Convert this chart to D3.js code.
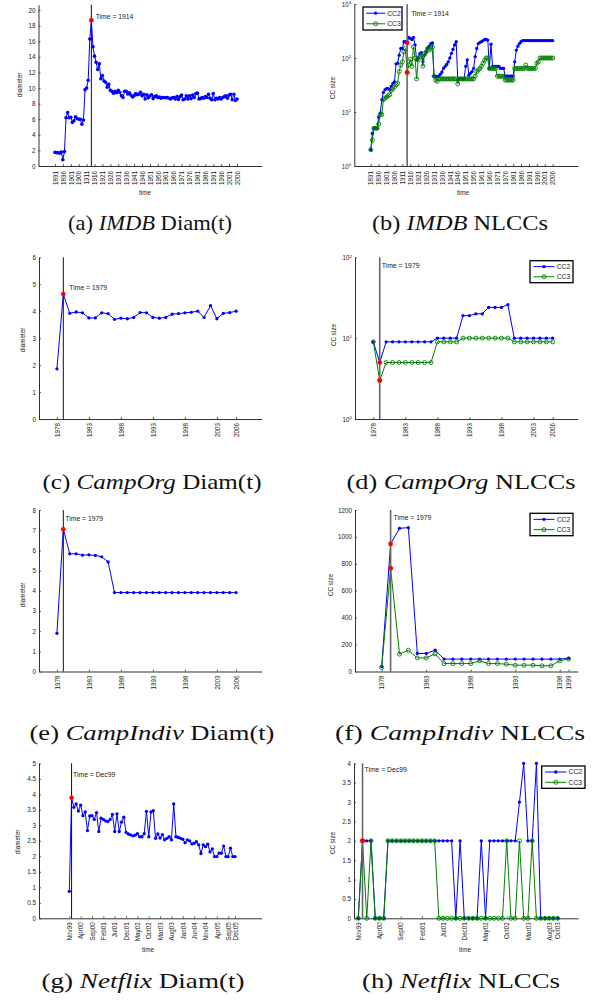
<!DOCTYPE html>
<html><head><meta charset="utf-8">
<script src="https://cdn.jsdelivr.net/npm/d3@7"></script>
<style>body{margin:0;background:#fff}svg{display:block}</style>
</head><body>
<svg id="c" width="595" height="1000"></svg>
<script>
// ---------------- DATA ----------------
// IMDB (yearly, 1891-2006)
const imdbStartYear = 1891;
const imdbDiameter = [1.75,1.7,1.7,1.65,1.8,0.8,1.85,
  6.2,6.85,6.2,6.25,5.6,5.8,6.3,6.1,6.0,6.0,5.35,5.9,9.8,10.0,11.0,16.3,18.7,
  15.3,14.1,13.3,12.4,13.1,11.2,11.6,10.9,10.75,10.1,10.5,9.7,9.6,9.35,9.6,9.4,
  9.7,9.45,9.0,8.8,9.6,9.6,9.25,9.4,9.1,8.85,9.0,9.3,9.15,9.2,9.45,9.0,9.2,8.6,9.15,8.75,
  9.0,9.15,8.65,8.9,9.0,8.8,8.85,8.7,8.8,8.8,8.75,8.8,8.7,8.6,8.75,8.8,8.6,8.9,8.55,8.9,
  9.1,8.5,8.6,9.0,8.6,9.0,8.65,9.1,8.8,9.3,9.35,8.6,8.65,8.8,8.7,8.9,8.8,9.2,8.7,8.5,
  9.3,8.5,8.7,8.6,8.8,8.6,8.8,8.9,9.0,8.7,9.1,9.2,8.5,9.2,8.4,8.6];
const imdbCC2 = [2,4,5,5,5,8,9.5,17,23,26,27,27,26,30,34,36,78,80,113,150,150,200,200,192,
  240,230,220,240,175,92,100,120,125,85,113,130,150,165,185,190,
  46,45,45,46,50,55,64,70,76,85,100,122,145,175,200,
  39,41,41,41,41,70,92,48,52,56,64,106,150,185,195,200,210,220,220,215,
  64,180,70,70,70,70,70,64,64,64,46,46,46,46,46,46,85,140,165,185,200,
  210,210,210,210,210,210,210,210,210,210,210,210,210,210,210,210,210,210,210,210];
const imdbCC3 = [2,3,5,5,5,6,9,9,17,18,19,20,21,25,27,29,32,34,56,74,85,130,150,54,
  74,95,70,160,100,41,92,106,113,71,120,130,150,140,150,160,
  46,39,37,41,41,41,41,41,41,41,41,41,41,41,41,
  33,41,41,41,41,41,41,41,41,41,41,46,56,60,64,70,80,92,100,100,
  64,64,64,64,64,46,46,46,46,46,39,39,39,39,39,39,64,64,64,64,64,
  64,64,74,64,64,64,64,64,64,80,85,100,100,100,100,100,100,100,100,100];
const imdbTicks = [1891,1896,1901,1906,1911,1916,1921,1926,1931,1936,1941,1946,1951,1956,1961,1966,1971,1976,1981,1986,1991,1996,2001,2006];
const imdbTickLabels = imdbTicks.map(String);
const imdbEvent = 1914;

// CampOrg (1978-2006)
const campStartYear = 1978;
const campOrgDiameter = [1.86,4.64,3.92,3.97,3.94,3.75,3.75,3.94,3.91,3.70,3.74,3.72,3.77,3.95,3.94,3.77,3.74,3.77,3.89,3.91,3.94,3.96,4.0,3.77,4.21,3.72,3.92,3.95,4.0];
const campOrgCC2 = [9,5,9,9,9,9,9,9,9,9,10,10,10,10,19,19,20,20,24,24,24,26,10,10,10,10,10,10,10];
const campOrgCC3 = [9,3,5,5,5,5,5,5,5,5,9,9,9,9,10,10,10,10,10,10,10,10,9,9,9,9,9,9,9];
const campTicks = [1978,1983,1988,1993,1998,2003,2006];
const campTickLabels = campTicks.map(String);
const campEvent = 1979;

// CampIndiv
const campIndivDiameter = [1.89,7.05,5.83,5.83,5.76,5.78,5.75,5.68,5.43,3.91,3.91,3.91,3.91,3.91,3.91,3.91,3.91,3.91,3.91,3.91,3.91,3.91,3.91,3.91,3.91,3.91,3.91,3.91,3.91];
const campIndivCC2 = [37,948,1064,1069,134,134,158,92,92,92,92,92,92,92,92,92,92,92,92,92,92,99];
const campIndivCC3 = [30,767,129,158,101,101,131,59,59,59,59,79,59,59,54,47,47,47,42,42,80,93];
const campIndivCCTicks = [1978,1983,1988,1993,1998,1999];
const campIndivCCTickLabels = campIndivCCTicks.map(String);

// Netflix (monthly, index 0 = Nov99)
const netflixDiameter = [0.87,3.89,3.58,3.69,3.46,3.65,3.31,3.43,2.83,3.30,
  3.31,3.19,3.41,2.80,3.23,3.19,3.14,3.12,3.19,3.35,
  2.80,3.37,2.80,3.10,3.26,2.77,2.72,2.69,2.66,2.68,
  2.73,2.63,2.63,2.73,3.45,2.63,3.43,3.47,2.58,2.72,
  2.59,2.70,2.53,2.58,2.63,2.53,3.69,2.63,2.61,2.58,
  2.55,2.44,2.53,2.50,2.40,2.42,2.47,2.37,2.09,2.37,
  2.31,2.39,2.14,2.24,1.99,1.99,2.10,2.10,2.33,1.99,
  1.99,2.26,1.99,1.99];
const netflixCC2 = [0,2,2,2,0,0,0, 2,2,2,2,2,2,2,2,2,2,2,2,2,2,2,2, 0,2,0,0,0,0,2,0, 2,2,2,2,2,2,2, 3,4,2,2,4, 0,0,0,0,0];
const netflixCC3 = [0,2,0,2,0,0,0, 2,2,2,2,2,2,2,2,2,2,2,2, 0,0,0,0,0,0,0,0,0,0,0,0,0,0,0,0, 2,0,0,2,0,0,2, 0,0,0,0,0,0];
const netflixDiamTicks = [0,5,10,15,20,25,30,35,40,45,50,55,60,65,70,73];
const netflixDiamTickLabels = ["Nov99","Apr00","Sep00","Feb01","Jul01","Dec01","May02","Oct02","Mar03","Aug03","Jan04","Jun04","Nov04","Apr05","Sep05","Dec05"];
const netflixCCTicks = [0,5,10,15,20,25,30,35,40,45,47];
const netflixCCTickLabels = ["Nov99","Apr00","Sep00","Feb01","Jul01","Dec01","May02","Oct02","Mar03","Aug03","Oct03"];
const netflixEvent = 1;

const seriesNames = ["CC2","CC3"];

// ---------------- DRAWING ----------------
const svg = d3.select('#c');
const FONT = "'Liberation Sans', Arial, sans-serif";
const AX = '#333';
const BLUE = '#0000ff', GREEN = '#008000', RED = '#ff0000';

function xsFrom(start, n) { return d3.range(n).map(i => start + i); }

function drawPanel(p) {
  const g = svg.append('g');
  const x = d3.scaleLinear().domain(p.xDomain).range(p.xRange);
  const y = (p.log ? d3.scaleLog() : d3.scaleLinear()).domain(p.yDomain).range(p.yRange);

  const xa = g.append('g').attr('transform', `translate(0,${p.yRange[0]})`)
    .call(d3.axisBottom(x).tickValues(p.xTicks).tickFormat((d, i) => p.xTickLabels[i]).tickSizeInner(-2).tickSizeOuter(0));
  xa.selectAll('text').attr('transform', 'rotate(-90)').attr('x', -p.xLabPad).attr('y', 0)
    .attr('dy', '0.35em').attr('text-anchor', 'end');
  const ya = g.append('g').attr('transform', `translate(${p.xRange[0]},0)`)
    .call(d3.axisLeft(y).tickValues(p.yTicks).tickFormat(d => String(d)).tickSizeInner(-2).tickSizeOuter(0).tickPadding(3));
  if (p.log) {
    ya.selectAll('text').each(function (d) {
      const t = d3.select(this).text('10');
      t.append('tspan').attr('dy', '-0.5em').attr('font-size', '4.4px').text(Math.round(Math.log10(d)));
    });
  }
  [xa, ya].forEach(a => {
    a.attr('font-family', FONT).attr('font-size', 6.3);
    a.selectAll('text').attr('fill', '#222');
    a.select('.domain').attr('stroke', AX).attr('stroke-width', 1);
    a.selectAll('.tick line').attr('stroke', AX).attr('stroke-width', 0.8);
  });

  p.series.forEach(s => {
    const pts = s.xs.map((xv, i) => [xv, s.values[i]]);
    const col = s.kind === 'blue' ? BLUE : GREEN;
    g.append('path').datum(pts)
      .attr('d', d3.line().x(d => x(d[0])).y(d => y(d[1])))
      .attr('fill', 'none').attr('stroke', col).attr('stroke-width', 1);
    const m = g.append('g').selectAll('circle').data(pts).join('circle')
      .attr('cx', d => x(d[0])).attr('cy', d => y(d[1]));
    if (s.kind === 'blue') m.attr('r', p.dotR || 1.65).attr('fill', BLUE);
    else m.attr('r', 2.0).attr('fill', 'none').attr('stroke', GREEN).attr('stroke-width', 0.9);
  });

  g.append('line').attr('x1', x(p.event)).attr('x2', x(p.event))
    .attr('y1', p.yRange[0]).attr('y2', p.yRange[1])
    .attr('stroke', p.evColor).attr('stroke-width', p.evWidth);
  p.series.forEach(s => {
    const i = s.xs.indexOf(p.event);
    g.append('circle').attr('cx', x(p.event)).attr('cy', y(s.values[i])).attr('r', 2.3).attr('fill', RED);
  });
  g.append('text').attr('x', x(p.event) + p.evDx).attr('y', p.evY)
    .attr('font-family', FONT).attr('font-size', 6.8).attr('fill', '#222').text(p.evText);

  g.append('text').attr('transform', `translate(${p.yLab[0]},${p.yLab[1]}) rotate(-90)`)
    .attr('text-anchor', 'middle').attr('font-family', FONT).attr('font-size', 6.3).attr('fill', '#222').text(p.yLabel);
  if (p.xLab) g.append('text').attr('x', p.xLab[0]).attr('y', p.xLab[1]).attr('text-anchor', 'middle')
    .attr('font-family', FONT).attr('font-size', 6.3).attr('fill', '#222').text('time');

  if (p.legend) {
    const [lx, ly, lw, lh] = p.legend;
    const lg = g.append('g');
    lg.append('rect').attr('x', lx).attr('y', ly).attr('width', lw).attr('height', lh)
      .attr('fill', '#fff').attr('stroke', '#000').attr('stroke-width', 1.3);
    seriesNames.forEach((name, k) => {
      const cy = ly + lh * (k === 0 ? 0.27 : 0.73);
      const col = k === 0 ? BLUE : GREEN;
      const x0 = lx + lw * 0.08, x1 = lx + lw * 0.57;
      lg.append('line').attr('x1', x0).attr('x2', x1).attr('y1', cy).attr('y2', cy).attr('stroke', col).attr('stroke-width', 1);
      const c = lg.append('circle').attr('cx', (x0 + x1) / 2).attr('cy', cy);
      if (k === 0) c.attr('r', 1.65).attr('fill', BLUE);
      else c.attr('r', 2.0).attr('fill', 'none').attr('stroke', GREEN).attr('stroke-width', 0.9);
      lg.append('text').attr('x', lx + lw * 0.62).attr('y', cy).attr('dy', '0.35em')
        .attr('font-family', FONT).attr('font-size', 6.8).attr('fill', '#222').text(name);
    });
  }
}

const imdbXs = xsFrom(imdbStartYear, imdbDiameter.length);
const campXs = xsFrom(campStartYear, campOrgDiameter.length);
const campIndivXs = xsFrom(campStartYear, campIndivCC2.length);
const nfDiamXs = xsFrom(0, netflixDiameter.length);
const nfCCXs = xsFrom(0, netflixCC2.length);

const LEFTLINE = {evColor: '#111', evWidth: 1};
const RIGHTLINE = {evColor: '#666', evWidth: 1.6};

drawPanel(Object.assign({
  xDomain: [1880.6, 2021.6], xRange: [38.5, 261.7], yDomain: [0, 20.7], yRange: [166, 4.7],
  xTicks: imdbTicks, xTickLabels: imdbTickLabels, xLabPad: 5, yTicks: d3.range(0, 21, 2),
  series: [{xs: imdbXs, values: imdbDiameter, kind: 'blue'}], dotR: 1.8,
  event: imdbEvent, evDx: 4.3, evY: 19, evText: 'Time = 1914',
  yLabel: 'diameter', yLab: [22, 85], xLab: [145, 195]
}, LEFTLINE));
drawPanel(Object.assign({
  xDomain: [1880.6, 2022], xRange: [354.3, 578], yDomain: [1, 1000], yRange: [166, 4], log: true,
  xTicks: imdbTicks, xTickLabels: imdbTickLabels, xLabPad: 5, yTicks: [1, 10, 100, 1000],
  series: [{xs: imdbXs, values: imdbCC2, kind: 'blue'}, {xs: imdbXs, values: imdbCC3, kind: 'green'}],
  event: imdbEvent, evDx: 4, evY: 15.7, evText: 'Time = 1914',
  yLabel: 'CC size', yLab: [335, 88], xLab: [463, 195], legend: [363, 7, 39, 23]
}, RIGHTLINE));
drawPanel(Object.assign({
  xDomain: [1975.2, 2010], xRange: [39, 261.7], yDomain: [0, 6], yRange: [419, 257.3],
  xTicks: campTicks, xTickLabels: campTickLabels, xLabPad: 4, yTicks: d3.range(0, 7, 1),
  series: [{xs: campXs, values: campOrgDiameter, kind: 'blue'}],
  event: campEvent, evDx: 6, evY: 290, evText: 'Time = 1979',
  yLabel: 'diameter', yLab: [25, 340]
}, LEFTLINE));
drawPanel(Object.assign({
  xDomain: [1975.14, 2009.9], xRange: [355, 577.7], yDomain: [1, 100], yRange: [419, 257.3], log: true,
  xTicks: campTicks, xTickLabels: campTickLabels, xLabPad: 4, yTicks: [1, 10, 100],
  series: [{xs: campXs, values: campOrgCC2, kind: 'blue'}, {xs: campXs, values: campOrgCC3, kind: 'green'}],
  event: campEvent, evDx: 2, evY: 268.3, evText: 'Time = 1979',
  yLabel: 'CC size', yLab: [336, 335], legend: [530, 260.7, 43, 22]
}, RIGHTLINE));
drawPanel(Object.assign({
  xDomain: [1975.2, 2010], xRange: [39, 261.7], yDomain: [0, 8], yRange: [671.5, 510],
  xTicks: campTicks, xTickLabels: campTickLabels, xLabPad: 4, yTicks: d3.range(0, 9, 1),
  series: [{xs: campXs, values: campIndivDiameter, kind: 'blue'}],
  event: campEvent, evDx: 2, evY: 521, evText: 'Time = 1979',
  yLabel: 'diameter', yLab: [25, 595]
}, LEFTLINE));
drawPanel(Object.assign({
  xDomain: [1975, 2000.02], xRange: [355, 577.7], yDomain: [0, 1200], yRange: [671.5, 510],
  xTicks: campIndivCCTicks, xTickLabels: campIndivCCTickLabels, xLabPad: 4, yTicks: d3.range(0, 1201, 200),
  series: [{xs: campIndivXs, values: campIndivCC2, kind: 'blue'}, {xs: campIndivXs, values: campIndivCC3, kind: 'green'}],
  event: campEvent, evDx: 3, evY: 520, evText: 'Time = 1979',
  yLabel: 'CC size', yLab: [333, 585], legend: [530, 513.3, 43, 22.4]
}, RIGHTLINE));
drawPanel(Object.assign({
  xDomain: [-13.35, 84.76], xRange: [39, 261.7], yDomain: [0, 5], yRange: [918.3, 763.3],
  xTicks: netflixDiamTicks, xTickLabels: netflixDiamTickLabels, xLabPad: 4, yTicks: d3.range(0, 5.01, 0.5),
  series: [{xs: nfDiamXs, values: netflixDiameter, kind: 'blue'}],
  event: netflixEvent, evDx: 1.5, evY: 777.3, evText: 'Time = Dec99',
  yLabel: 'diameter', yLab: [20, 842], xLab: [148, 952]
}, LEFTLINE));
drawPanel(Object.assign({
  xDomain: [-1.01, 51.8], xRange: [354, 578], yDomain: [0, 4], yRange: [918.3, 763.3],
  xTicks: netflixCCTicks, xTickLabels: netflixCCTickLabels, xLabPad: 4, yTicks: d3.range(0, 4.01, 0.5),
  series: [{xs: nfCCXs, values: netflixCC2, kind: 'blue'}, {xs: nfCCXs, values: netflixCC3, kind: 'green'}],
  event: netflixEvent, evDx: 2, evY: 771.7, evText: 'Time = Dec99',
  yLabel: 'CC size', yLab: [335, 843], xLab: [465, 952], legend: [541.7, 766, 43.3, 22.3]
}, RIGHTLINE));

const captions = [
  {cx: 150, y: 230, w: 164, parts: ['(a) ', 'IMDB', ' Diam(t)']},
  {cx: 460, y: 230, w: 176, parts: ['(b) ', 'IMDB', ' NLCCs']},
  {cx: 152, y: 489, w: 219, parts: ['(c) ', 'CampOrg', ' Diam(t)']},
  {cx: 461, y: 489, w: 229, parts: ['(d) ', 'CampOrg', ' NLCCs']},
  {cx: 152, y: 740, w: 245, parts: ['(e) ', 'CampIndiv', ' Diam(t)']},
  {cx: 460, y: 740, w: 250, parts: ['(f) ', 'CampIndiv', ' NLCCs']},
  {cx: 143, y: 988, w: 203, parts: ['(g) ', 'Netflix', ' Diam(t)']},
  {cx: 461, y: 988, w: 198, parts: ['(h) ', 'Netflix', ' NLCCs']}
];
captions.forEach(c => {
  const t = svg.append('text').attr('x', c.cx - c.w / 2).attr('y', c.y)
    .attr('font-family', "'Liberation Serif', 'DejaVu Serif', serif").attr('font-size', 21).attr('fill', '#111')
    .attr('textLength', c.w).attr('lengthAdjust', 'spacingAndGlyphs');
  c.parts.forEach((s, k) => t.append('tspan').attr('font-style', k === 1 ? 'italic' : 'normal').text(s));
});
</script>
</body></html>
